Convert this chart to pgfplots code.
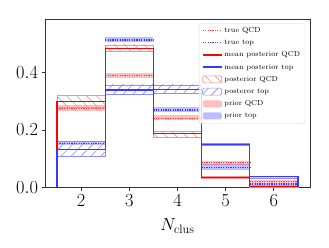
\RequirePackage{fix-cm}
\documentclass[border=0pt]{standalone}
\usepackage{pgfplots}
\pgfplotsset{compat=1.18}
\usetikzlibrary{patterns.meta}
\definecolor{mred}{rgb}{1,0,0}
\definecolor{mblue}{rgb}{0.22,0.22,1}
\definecolor{hred}{rgb}{1,0.55,0.55}
\definecolor{hblue}{rgb}{0.55,0.55,1}
\pgfplotsset{
  lineleg/.style={legend image code/.code={\draw[##1] (0bp,0bp) -- (19bp,0bp);}},
  rectleg/.style={legend image code/.code={\draw[##1] (0bp,-3.5bp) rectangle (19bp,3.5bp);}},
  fillleg/.style={legend image code/.code={\path[##1,draw=none] (0bp,-3.5bp) rectangle (19bp,3.5bp);}},
}
\begin{document}
\begin{tikzpicture}
\begin{axis}[
  scale only axis, width=265bp, height=168.3bp,
  xmin=1.25, xmax=6.75, ymin=0, ymax=0.587,
  xtick={2,3,4,5,6}, ytick={0,0.2,0.4},
  yticklabel style={/pgf/number format/.cd,fixed,fixed zerofill,precision=1},
  tick align=outside, xtick pos=bottom, ytick pos=left,
  major tick length=3.5bp,
  tick style={black!80, line width=0.8bp},
  axis line style={line width=0.8bp, black!80},
  tick label style={font=\fontsize{18.5}{22}\selectfont},
  xlabel={$N_{\mathrm{clus}}$},
  xlabel style={font=\fontsize{17.5}{21}\selectfont, yshift=-6bp},
  legend cell align=left,
  legend style={at={(0.982,0.977)}, anchor=north east,
    font=\fontsize{7.3}{9}\selectfont, draw=black!15, rounded corners=1.5pt,
    fill=white, fill opacity=0.8, text opacity=1,
    nodes={text height=5.5bp, text depth=1.5bp, inner sep=2bp},
    row sep=1.2bp, inner xsep=3bp, inner ysep=2bp},
]
% ---- prior QCD bands
\addplot[forget plot, draw=none, fill=mred, fill opacity=0.25] coordinates {(1.5,0.266)(2.5,0.266)(2.5,0.288)(1.5,0.288)} -- cycle;
\addplot[forget plot, draw=none, fill=mred, fill opacity=0.25] coordinates {(2.5,0.380)(3.5,0.380)(3.5,0.398)(2.5,0.398)} -- cycle;
\addplot[forget plot, draw=none, fill=mred, fill opacity=0.25] coordinates {(3.5,0.235)(4.5,0.235)(4.5,0.252)(3.5,0.252)} -- cycle;
\addplot[forget plot, draw=none, fill=mred, fill opacity=0.25] coordinates {(4.5,0.078)(5.5,0.078)(5.5,0.093)(4.5,0.093)} -- cycle;
\addplot[forget plot, draw=none, fill=mred, fill opacity=0.25] coordinates {(5.5,0.015)(6.5,0.015)(6.5,0.024)(5.5,0.024)} -- cycle;
% ---- prior top bands
\addplot[forget plot, draw=none, fill=blue, fill opacity=0.25] coordinates {(1.5,0.146)(2.5,0.146)(2.5,0.160)(1.5,0.160)} -- cycle;
\addplot[forget plot, draw=none, fill=blue, fill opacity=0.25] coordinates {(2.5,0.508)(3.5,0.508)(3.5,0.525)(2.5,0.525)} -- cycle;
\addplot[forget plot, draw=none, fill=blue, fill opacity=0.25] coordinates {(3.5,0.264)(4.5,0.264)(4.5,0.281)(3.5,0.281)} -- cycle;
\addplot[forget plot, draw=none, fill=blue, fill opacity=0.25] coordinates {(4.5,0.062)(5.5,0.062)(5.5,0.080)(4.5,0.080)} -- cycle;
\addplot[forget plot, draw=none, fill=blue, fill opacity=0.25] coordinates {(5.5,0.008)(6.5,0.008)(6.5,0.016)(5.5,0.016)} -- cycle;
% ---- posterior QCD hatch
\addplot[forget plot, draw=hred, line width=0.6bp, pattern={Lines[angle=-45,distance=7bp,line width=0.6bp]}, pattern color=hred] coordinates {(1.5,0.280)(2.5,0.280)(2.5,0.320)(1.5,0.320)} -- cycle;
\addplot[forget plot, draw=hred, line width=0.6bp, pattern={Lines[angle=-45,distance=7bp,line width=0.6bp]}, pattern color=hred] coordinates {(2.5,0.473)(3.5,0.473)(3.5,0.497)(2.5,0.497)} -- cycle;
\addplot[forget plot, draw=hred, line width=0.6bp, pattern={Lines[angle=-45,distance=7bp,line width=0.6bp]}, pattern color=hred] coordinates {(3.5,0.176)(4.5,0.176)(4.5,0.194)(3.5,0.194)} -- cycle;
\addplot[forget plot, draw=hred, line width=0.6bp, fill=mred, fill opacity=0.15] coordinates {(4.5,0.030)(5.5,0.030)(5.5,0.038)(4.5,0.038)} -- cycle;
\addplot[forget plot, draw=hred, line width=0.6bp, fill=mred, fill opacity=0.15] coordinates {(5.5,0.001)(6.5,0.001)(6.5,0.006)(5.5,0.006)} -- cycle;
% ---- posterior top hatch
\addplot[forget plot, draw=hblue, line width=0.6bp, pattern={Lines[angle=45,distance=7bp,line width=0.6bp]}, pattern color=hblue] coordinates {(1.5,0.107)(2.5,0.107)(2.5,0.159)(1.5,0.159)} -- cycle;
\addplot[forget plot, draw=hblue, line width=0.6bp, pattern={Lines[angle=45,distance=7bp,line width=0.6bp]}, pattern color=hblue] coordinates {(2.5,0.325)(3.5,0.325)(3.5,0.357)(2.5,0.357)} -- cycle;
\addplot[forget plot, draw=hblue, line width=0.6bp, pattern={Lines[angle=45,distance=7bp,line width=0.6bp]}, pattern color=hblue] coordinates {(3.5,0.329)(4.5,0.329)(4.5,0.357)(3.5,0.357)} -- cycle;
\addplot[forget plot, draw=hblue, line width=0.6bp, fill=blue, fill opacity=0.15] coordinates {(4.5,0.146)(5.5,0.146)(5.5,0.155)(4.5,0.155)} -- cycle;
\addplot[forget plot, draw=hblue, line width=0.6bp, fill=blue, fill opacity=0.15] coordinates {(5.5,0.033)(6.5,0.033)(6.5,0.040)(5.5,0.040)} -- cycle;
% ---- true (dotted)
\addplot[forget plot, jump mark left, color=mred, draw opacity=0.7, line width=1.3bp, dash pattern=on 1.2bp off 1.2bp] coordinates {(1.5,0.276)(2.5,0.389)(3.5,0.241)(4.5,0.086)(5.5,0.0195)(6.5,0.0195)};
\addplot[forget plot, jump mark left, color=blue, draw opacity=0.7, line width=1.3bp, dash pattern=on 1.2bp off 1.2bp] coordinates {(1.5,0.153)(2.5,0.514)(3.5,0.270)(4.5,0.070)(5.5,0.0115)(6.5,0.0115)};
% ---- mean posterior (solid steps)
\addplot[forget plot, color=mred, line width=1.3bp] coordinates {(1.5,0)(1.5,0.299)(2.5,0.299)(2.5,0.485)(3.5,0.485)(3.5,0.188)(4.5,0.188)(4.5,0.034)(5.5,0.034)(5.5,0.003)(6.5,0.003)(6.5,0)};
\addplot[forget plot, color=mblue, line width=1.4bp] coordinates {(1.5,0)(1.5,0.132)(2.5,0.132)(2.5,0.339)(3.5,0.339)(3.5,0.342)(4.5,0.342)(4.5,0.150)(5.5,0.150)(5.5,0.037)(6.5,0.037)(6.5,0)};
% ---- legend
\addlegendimage{color=mred, draw opacity=0.7, line width=1.3bp, dash pattern=on 1.2bp off 1.2bp, lineleg}
\addlegendentry{true QCD}
\addlegendimage{color=blue, draw opacity=0.7, line width=1.3bp, dash pattern=on 1.2bp off 1.2bp, lineleg}
\addlegendentry{true top}
\addlegendimage{color=mred, line width=1.3bp, lineleg}
\addlegendentry{mean posterior QCD}
\addlegendimage{color=mblue, line width=1.4bp, lineleg}
\addlegendentry{mean posterior top}
\addlegendimage{draw=hred, line width=0.6bp, pattern={Lines[angle=-45,distance=7bp,line width=0.6bp]}, pattern color=hred, rectleg}
\addlegendentry{posterior QCD}
\addlegendimage{draw=hblue, line width=0.6bp, pattern={Lines[angle=45,distance=7bp,line width=0.6bp]}, pattern color=hblue, rectleg}
\addlegendentry{posteror top}
\addlegendimage{fill=mred, fill opacity=0.25, fillleg}
\addlegendentry{prior QCD}
\addlegendimage{fill=blue, fill opacity=0.25, fillleg}
\addlegendentry{prior top}
\end{axis}
\path ([xshift=-45bp,yshift=-59.7bp]current axis.south west) rectangle ([xshift=19bp,yshift=19bp]current axis.north east);
\end{tikzpicture}
\end{document}
